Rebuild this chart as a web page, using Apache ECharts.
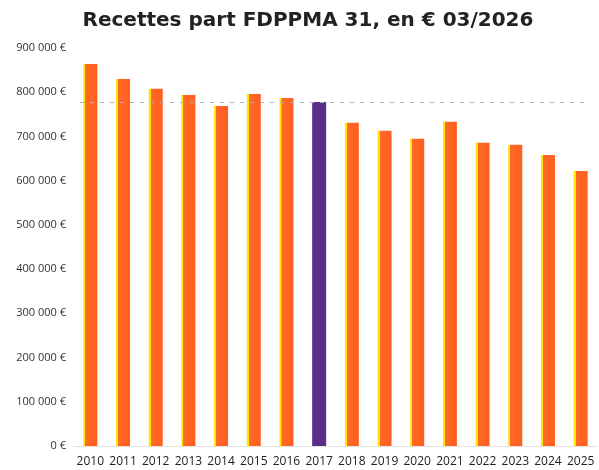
<!DOCTYPE html>
<html>
<head>
<meta charset="utf-8">
<script src="https://cdn.jsdelivr.net/npm/echarts@6/dist/echarts.min.js"></script>
<style>
  html, body { margin: 0; padding: 0; background: #fff; }
  #chart { width: 599px; height: 470px; }
</style>
</head>
<body>
<div id="chart"></div>
<script>
// Values
const years = ['2010', '2011', '2012', '2013', '2014', '2015', '2016', '2017',
  '2018', '2019', '2020', '2021', '2022', '2023', '2024', '2025'];
const recettes = [864000, 830000, 808000, 794000, 769000, 796000, 787000, 778000,
  731000, 713000, 695000, 733000, 686000, 681000, 658000, 622000];
const highlightYear = '2017';
const referenceLevel = 778000;

const orangeFill = new echarts.graphic.LinearGradient(0, 0, 1, 0, [
  { offset: 0, color: '#ffe600' },
  { offset: 0.14, color: '#ffe600' },
  { offset: 0.15, color: '#ff6a24' },
  { offset: 1, color: '#ff5f22' }
]);
const purpleFill = '#5a2e86';

const formatEuro = (v) => {
  if (v === 0) return '0 €';
  return String(v).replace(/\B(?=(\d{3})+(?!\d))/g, ' ') + ' €';
};

const chart = echarts.init(document.getElementById('chart'));

chart.setOption({
  animation: false,
  backgroundColor: '#fff',
  title: {
    text: 'Recettes part FDPPMA 31, en € 03/2026',
    left: 303,
    textAlign: 'center',
    top: 6,
    textStyle: {
      fontFamily: 'DejaVu Sans',
      fontWeight: 'bold',
      fontSize: 20,
      color: '#222'
    }
  },
  grid: { left: 74, right: 2, top: 48, bottom: 24 },
  xAxis: {
    type: 'category',
    data: years,
    axisLine: { lineStyle: { color: '#e2e2e2', width: 1 } },
    axisTick: { show: false },
    axisLabel: {
      color: '#222',
      fontFamily: 'Open Sans',
      fontSize: 12,
      margin: 10,
      interval: 0
    }
  },
  yAxis: {
    type: 'value',
    min: 0,
    max: 900000,
    interval: 100000,
    axisLine: { show: false },
    axisTick: { show: false },
    splitLine: { show: false },
    axisLabel: {
      color: '#333',
      fontFamily: 'Open Sans',
      fontSize: 11,
      margin: 8,
      formatter: formatEuro
    }
  },
  series: [{
    type: 'bar',
    barWidth: 14,
    data: recettes.map((v, i) => ({
      value: v,
      itemStyle: { color: years[i] === highlightYear ? purpleFill : orangeFill }
    })),
    markLine: {
      silent: true,
      symbol: 'none',
      label: { show: false },
      lineStyle: { color: '#aab4c0', type: [4, 6], width: 1.2 },
      data: [[
        { coord: [0, referenceLevel], x: 80 },
        { coord: [15, referenceLevel], x: 590 }
      ]]
    }
  }]
});
</script>
</body>
</html>
